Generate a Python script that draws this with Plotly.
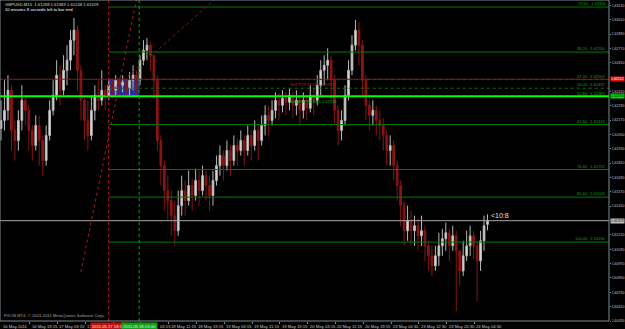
import plotly.graph_objects as go

# ---------------- data (hourly bars, GBPUSD) ----------------
close = [1.62168,1.62252,1.62420,1.62084,1.62000,1.62168,1.62336,1.62252,1.62084,1.61958,
         1.62126,1.62000,1.61832,1.62042,1.62252,1.62378,1.62546,1.62420,1.62587,1.62671,
         1.62839,1.62923,1.62587,1.62336,1.62168,1.62042,1.62252,1.62378,1.62336,1.62420,
         1.62378,1.62462,1.62420,1.62504,1.62462,1.62487,1.62436,1.62504,1.62546,1.62504,
         1.62671,1.62755,1.62797,1.62713,1.62504,1.62000,1.61790,1.61581,1.61497,1.61371,
         1.61245,1.61455,1.61581,1.61497,1.61623,1.61539,1.61665,1.61581,1.61706,1.61623,
         1.61539,1.61665,1.61790,1.61874,1.61790,1.61916,1.61832,1.61958,1.61916,1.62000,
         1.61916,1.62042,1.61958,1.62084,1.62000,1.62126,1.62210,1.62168,1.62252,1.62336,
         1.62294,1.62353,1.62319,1.62378,1.62294,1.62336,1.62252,1.62336,1.62269,1.62378,
         1.62336,1.62462,1.62587,1.62629,1.62671,1.62504,1.62252,1.62084,1.62168,1.62378,
         1.62587,1.62797,1.62923,1.62797,1.62504,1.62294,1.62210,1.62252,1.62168,1.62126,
         1.62042,1.61916,1.61958,1.61790,1.61623,1.61455,1.61245,1.61329,1.61245,1.61287,
         1.61203,1.61245,1.61119,1.61035,1.60951,1.61035,1.61119,1.61178,1.61228,1.61119,
         1.61203,1.61077,1.60909,1.61035,1.61119,1.61203,1.61119,1.60993,1.61161,1.61287,
         1.61329]
high = [1.62336,1.62504,1.62546,1.62462,1.62168,1.62252,1.62462,1.62378,1.62294,1.62126,
        1.62210,1.62210,1.62042,1.62126,1.62336,1.62504,1.62671,1.62629,1.62713,1.62797,
        1.62923,1.63024,1.62965,1.62629,1.62378,1.62336,1.62378,1.62462,1.62504,1.62587,
        1.62462,1.62520,1.62520,1.62546,1.62529,1.62546,1.62520,1.62571,1.62629,1.62587,
        1.62713,1.62839,1.62856,1.62822,1.62713,1.62546,1.62042,1.61832,1.61706,1.61581,
        1.61497,1.61581,1.61706,1.61665,1.61748,1.61681,1.61765,1.61748,1.61790,1.61748,
        1.61706,1.61748,1.61874,1.61958,1.61916,1.62000,1.61958,1.62042,1.62017,1.62084,
        1.62042,1.62126,1.62084,1.62168,1.62126,1.62210,1.62294,1.62294,1.62336,1.62403,
        1.62395,1.62420,1.62403,1.62436,1.62403,1.62420,1.62378,1.62403,1.62378,1.62462,
        1.62436,1.62546,1.62671,1.62713,1.62771,1.62713,1.62546,1.62294,1.62252,1.62462,
        1.62671,1.62881,1.63007,1.62990,1.62839,1.62546,1.62336,1.62336,1.62294,1.62252,
        1.62185,1.62084,1.62042,1.62000,1.61832,1.61665,1.61497,1.61455,1.61413,1.61371,
        1.61346,1.61371,1.61287,1.61161,1.61119,1.61119,1.61228,1.61262,1.61312,1.61262,
        1.61287,1.61245,1.61077,1.61161,1.61245,1.61287,1.61245,1.61161,1.61245,1.61371,
        1.61383]
low = [1.62000,1.62084,1.62168,1.61916,1.61832,1.61916,1.62084,1.62126,1.61916,1.61832,
       1.61916,1.61790,1.61706,1.61790,1.62000,1.62210,1.62336,1.62294,1.62378,1.62462,
       1.62587,1.62713,1.62420,1.62168,1.62000,1.61916,1.62000,1.62168,1.62252,1.62294,
       1.62252,1.62336,1.62353,1.62378,1.62378,1.62403,1.62353,1.62378,1.62420,1.62403,
       1.62462,1.62629,1.62671,1.62587,1.62378,1.61916,1.61623,1.61413,1.61329,1.61203,
       1.61119,1.61203,1.61371,1.61371,1.61455,1.61413,1.61497,1.61455,1.61539,1.61497,
       1.61413,1.61455,1.61623,1.61706,1.61665,1.61748,1.61706,1.61790,1.61790,1.61874,
       1.61790,1.61874,1.61832,1.61916,1.61832,1.61958,1.62042,1.62042,1.62126,1.62185,
       1.62168,1.62235,1.62210,1.62252,1.62185,1.62210,1.62126,1.62185,1.62168,1.62235,
       1.62210,1.62294,1.62378,1.62462,1.62504,1.62336,1.62126,1.61958,1.62000,1.62126,
       1.62336,1.62546,1.62755,1.62629,1.62378,1.62168,1.62084,1.62126,1.62042,1.62000,
       1.61916,1.61790,1.61790,1.61665,1.61497,1.61287,1.61119,1.61161,1.61119,1.61119,
       1.61077,1.61119,1.60993,1.60909,1.60867,1.60909,1.60951,1.61035,1.61077,1.60993,
       1.61077,1.60574,1.60784,1.60867,1.60993,1.61035,1.61010,1.60658,1.60909,1.61077,
       1.61248]
first_open = 1.62100
last_open = 1.61298

# time axis labels (bar index of tick, text); labels hidden by the object boxes
# show only the part that stays visible
tick_pos = [8.25, 16.25, 24.25, 32.25, 40.25, 48.25, 56.25, 64.25, 72.25, 80.25,
            88.25, 96.25, 104.25, 112.25, 120.25, 128.25, 136.25]
tick_txt = ["16 May 19:15", "17 May 03:15", "17", "", "03:15",
            "18 May 11:15", "18 May 19:15", "19 May 03:15", "19 May 11:15", "19 May 19:15",
            "20 May 03:15", "20 May 11:15", "20 May 19:15", "23 May 04:30", "23 May 12:30",
            "23 May 20:30", "24 May 04:30"]
tick_shift = [0, 0, 0, 0, 17, 0, 0, 0, 0, 0, 0, 0, 0, 0, 0, 0, 0]
price_ticks = [1.60490, 1.60610, 1.60730, 1.60850, 1.60970, 1.61090, 1.61210, 1.61450,
               1.61570, 1.61690, 1.61810, 1.61930, 1.62050, 1.62170, 1.62290, 1.62410,
               1.62650, 1.62770, 1.62890, 1.63010, 1.63130]

# Fibonacci levels
fib_pct = [23.6, 38.2, 47.2, 50.0, 52.8, 61.8, 76.4, 85.4, 100.0]
fib_price = [1.63116, 1.62740, 1.62509, 1.62437, 1.62365, 1.62133, 1.61757, 1.61526, 1.61150]
fib_dash = ["solid", "solid", "dot", "dot", "solid", "solid", "solid", "solid", "solid"]

# objects
red_hline = 1.62512
green_hline = 1.62370
bid = 1.61329
box_bars = [31.0, 39.75]
vline_red = 31.0
vline_green = 39.75
vline_red_label = "2011.05.17 18:30"
vline_green_label = "2011.05.18 03:00"
trend_red = [(23.0, 1.60900), (39.0, 1.63180)]
trend_brown = [(30.0, 1.62370), (61.5, 1.63180)]

opens = [first_open] + close[:-1]
opens[-1] = last_open
idx = list(range(len(close)))

fig = go.Figure()
fig.add_trace(go.Candlestick(
    x=idx, open=opens, high=high, low=low, close=close,
    increasing=dict(line=dict(color="#b8b8b8", width=1), fillcolor="#e0e0e0"),
    decreasing=dict(line=dict(color="#8a1414", width=1), fillcolor="#8a1414"),
    whiskerwidth=0, showlegend=False, hoverinfo="skip"))

shapes = []
shapes.append(dict(type="rect", xref="x", yref="y", x0=box_bars[0], x1=box_bars[1],
                   y0=green_hline, y1=red_hline, fillcolor="#2a2a9a",
                   line=dict(width=0), layer="below"))
for p, d, pc in zip(fib_price, fib_dash, fib_pct):
    if pc == 52.8:
        continue
    shapes.append(dict(type="line", xref="x", yref="y", x0=vline_red, x1=175,
                       y0=p, y1=p, line=dict(color="#007a00", width=1, dash=d)))
shapes.append(dict(type="line", xref="paper", yref="y", x0=0, x1=1, y0=red_hline, y1=red_hline,
                   line=dict(color="#8b1a1a", width=1)))
shapes.append(dict(type="line", xref="paper", yref="y", x0=0, x1=1, y0=green_hline, y1=green_hline,
                   line=dict(color="#00ff00", width=2)))
shapes.append(dict(type="line", xref="paper", yref="y", x0=0, x1=1, y0=bid, y1=bid,
                   line=dict(color="#a8a8a8", width=1)))
shapes.append(dict(type="line", xref="x", yref="paper", x0=vline_red, x1=vline_red, y0=0, y1=1,
                   line=dict(color="#b01818", width=1, dash="dot")))
shapes.append(dict(type="line", xref="x", yref="paper", x0=vline_green, x1=vline_green, y0=0, y1=1,
                   line=dict(color="#1a9a1a", width=1, dash="dot")))
shapes.append(dict(type="line", xref="x", yref="y", x0=trend_red[0][0], y0=trend_red[0][1],
                   x1=trend_red[1][0], y1=trend_red[1][1],
                   line=dict(color="#b01818", width=1, dash="dot")))
shapes.append(dict(type="line", xref="x", yref="y", x0=trend_brown[0][0], y0=trend_brown[0][1],
                   x1=trend_brown[1][0], y1=trend_brown[1][1],
                   line=dict(color="#7a2020", width=1, dash="dot")))
shapes.append(dict(type="rect", xref="paper", yref="paper", x0=0, x1=1, y0=0, y1=1,
                   line=dict(color="#7f8c94", width=1)))

F = "Liberation Sans, Arial, sans-serif"
ann = []
ann.append(dict(xref="paper", yref="paper", x=0, y=1, xanchor="left", yanchor="top",
                xshift=3, yshift=0, showarrow=False,
                text="GBPUSD,M15  1.61298 1.61383 1.61248 1.61329",
                font=dict(family=F, size=4.2, color="#d8d8d8")))
ann.append(dict(xref="paper", yref="paper", x=0, y=1, xanchor="left", yanchor="top",
                xshift=3, yshift=-5, showarrow=False,
                text="10 minutes 8 seconds left to bar end",
                font=dict(family=F, size=4.2, color="#ffffff")))
ann.append(dict(xref="paper", yref="paper", x=0, y=0, xanchor="left", yanchor="bottom",
                xshift=2, yshift=1, showarrow=False,
                text="FXCM MT4, \u00a9 2001-2011 MetaQuotes Software Corp.",
                font=dict(family=F, size=4.2, color="#a0a0a0")))
for pc, p in zip(fib_pct, fib_price):
    ann.append(dict(xref="paper", yref="y", x=1, y=p, xanchor="right", yanchor="bottom",
                    xshift=-1, yshift=-1, showarrow=False,
                    text=f"{pc:.2f}&nbsp;&nbsp;&nbsp;{p:.5f}",
                    font=dict(family=F, size=4, color="#10a010")))
ann.append(dict(xref="x", yref="y", x=82.5, y=red_hline, xanchor="left", yanchor="top",
                yshift=-1, showarrow=False, text=f"Sell TOP 47.20% {red_hline:.5f}",
                font=dict(family=F, size=4, color="#c01818")))
ann.append(dict(xref="x", yref="y", x=82.5, y=green_hline, xanchor="left", yanchor="top",
                yshift=-1, showarrow=False, text=f"Buy BOT 52.80% {green_hline:.5f}",
                font=dict(family=F, size=4, color="#10b010")))
ann.append(dict(xref="x", yref="y", x=140.5, y=bid, xanchor="left", yanchor="bottom",
                showarrow=False, text="<10:8",
                font=dict(family=F, size=7, color="#e0e0e0")))
ann.append(dict(xref="paper", yref="paper", x=0, y=0, xanchor="left", yanchor="top",
                xshift=1, yshift=-1, showarrow=False, text="16 May 2011",
                font=dict(family=F, size=4.2, color="#c8c8c8")))
for t, s, sh in zip(tick_pos, tick_txt, tick_shift):
    if not s:
        continue
    ann.append(dict(xref="x", yref="paper", x=t, y=0, xanchor="left", yanchor="top",
                    xshift=sh, yshift=-1, showarrow=False, text=s,
                    font=dict(family=F, size=4.2, color="#c8c8c8")))
ann.append(dict(xref="x", yref="paper", x=vline_red, y=0, xanchor="center", yanchor="top",
                yshift=-1, showarrow=False, text=vline_red_label, bgcolor="#c01010",
                borderpad=1, font=dict(family=F, size=4.2, color="#f0f0f0")))
ann.append(dict(xref="x", yref="paper", x=vline_green, y=0, xanchor="center", yanchor="top",
                yshift=-1, showarrow=False, text=vline_green_label, bgcolor="#10a010",
                borderpad=1, font=dict(family=F, size=4.2, color="#f0f0f0")))
for p, bg, fc in [(red_hline, "#e01010", "#ffffff"), (green_hline, "#00e000", "#000000"),
                  (bid, "#c0c0c0", "#000000")]:
    ann.append(dict(xref="paper", yref="y", x=1, y=p, xanchor="left", yanchor="middle",
                    xshift=1, showarrow=False, text=f"{p:.5f}", bgcolor=bg, borderpad=0,
                    font=dict(family=F, size=3.5, color=fc)))

fig.update_layout(
    width=625, height=329, margin=dict(l=0, r=16, t=0, b=8, autoexpand=False),
    paper_bgcolor="#000000", plot_bgcolor="#000000",
    shapes=shapes, annotations=ann, showlegend=False,
    xaxis=dict(range=[-0.29, 174.96], rangeslider=dict(visible=False), showgrid=False,
               zeroline=False, tickvals=tick_pos, showticklabels=False, ticks="outside",
               ticklen=2, tickcolor="#7f8c94", fixedrange=True, automargin=False),
    yaxis=dict(range=[1.60490, 1.63175], side="right", showgrid=False, zeroline=False,
               tickvals=price_ticks, ticktext=[f"{v:.5f}" for v in price_ticks],
               ticks="outside", ticklen=1, tickcolor="#7f8c94", automargin=False,
               tickfont=dict(family=F, size=3.5, color="#c8c8c8")),
)
fig.write_html("out.html")
